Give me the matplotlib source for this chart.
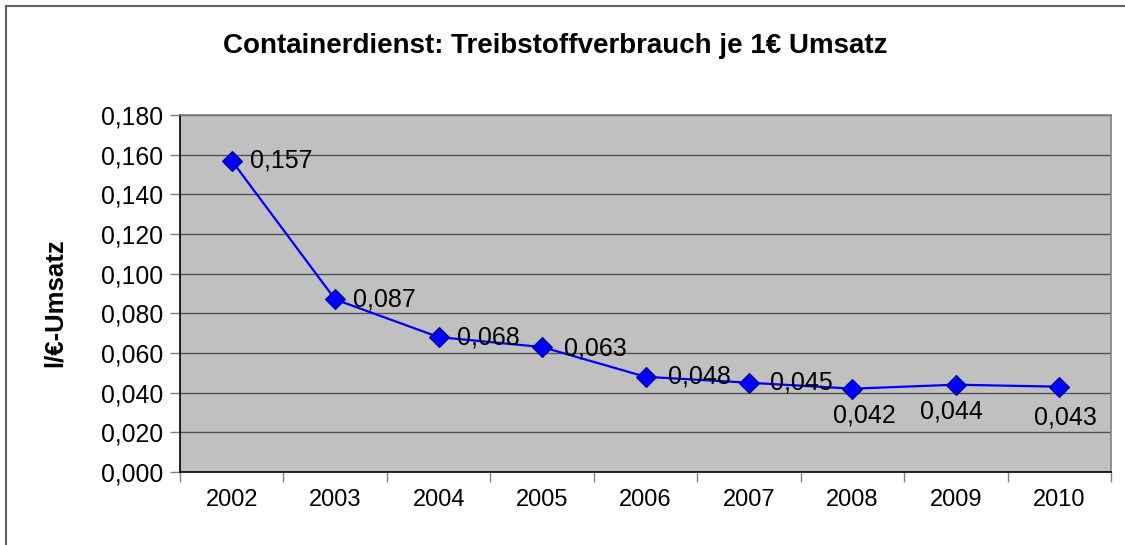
import numpy as np
import matplotlib
matplotlib.use('Agg')
from matplotlib import pyplot as plt
from matplotlib.lines import Line2D

plt.rcParams['font.family'] = ['Liberation Sans', 'DejaVu Sans']

years = ['2002', '2003', '2004', '2005', '2006', '2007', '2008', '2009', '2010']
values = [0.157, 0.087, 0.068, 0.063, 0.048, 0.045, 0.042, 0.044, 0.043]
labels = ['0,157', '0,087', '0,068', '0,063', '0,048', '0,045', '0,042', '0,044', '0,043']
y_ticks = [0.0, 0.02, 0.04, 0.06, 0.08, 0.10, 0.12, 0.14, 0.16, 0.18]

# label offsets in points (dx, dy), Excel put the last three below the marker
label_offsets = [(13, 0), (13, 0), (13, 0), (16, -1), (16, 0), (15, 0), (-14, -19), (-26, -19), (-18, -22)]

fig = plt.figure(figsize=(11.25, 5.45), dpi=100)
ax = fig.add_axes([0.16, 0.134, 0.8276, 0.655])
ax.set_facecolor('#c0c0c0')

x = np.arange(len(years))
ax.plot(x, values, color='#0000ff', lw=1.6, marker='D', ms=10.5,
        markerfacecolor='#0000ff', markeredgecolor='#000080', markeredgewidth=0.8, zorder=3)

for xi, v, lab, (dx, dy) in zip(x, values, labels, label_offsets):
    ax.annotate(lab, (xi, v), xytext=(dx, dy), textcoords='offset points',
                ha='left', va='center', fontsize=18, color='black', zorder=4)

ax.set_xlim(-0.5, len(years) - 0.5)
ax.set_ylim(0, 0.18)
ax.set_yticks(y_ticks)
ax.set_yticklabels([('%.3f' % t).replace('.', ',') for t in y_ticks], fontsize=17.8)
ax.set_xticks(x)
ax.set_xticklabels(years, fontsize=17)
ax.set_xticks(np.arange(-0.5, len(years)), minor=True)
ax.tick_params(axis='x', which='major', length=0, pad=12)
ax.tick_params(axis='x', which='minor', length=7, color='#808080', width=1)
ax.tick_params(axis='y', length=7, color='#808080', width=1, pad=5)

ax.grid(axis='y', color='#505050', lw=1)
ax.set_axisbelow(True)
for s in ['top', 'right']:
    ax.spines[s].set_color('#808080')
    ax.spines[s].set_linewidth(1.2)
for s in ['left', 'bottom']:
    ax.spines[s].set_color('black')
    ax.spines[s].set_linewidth(1.2)

ax.set_ylabel('l/€-Umsatz', fontsize=18.5, fontweight='bold')
ax.yaxis.set_label_coords(-0.122, 0.475)
fig.text(0.4935, 0.915, 'Containerdienst: Treibstoffverbrauch je 1€ Umsatz',
         ha='center', va='center', fontsize=20, fontweight='bold')

# chart frame, cropped at right and bottom
fig.add_artist(Line2D([0.0055, 0.0055], [0, 0.989], transform=fig.transFigure, color='#606060', lw=1.5))
fig.add_artist(Line2D([0.0055, 1], [0.989, 0.989], transform=fig.transFigure, color='#606060', lw=1.5))

fig.savefig('out.png', dpi=100)
